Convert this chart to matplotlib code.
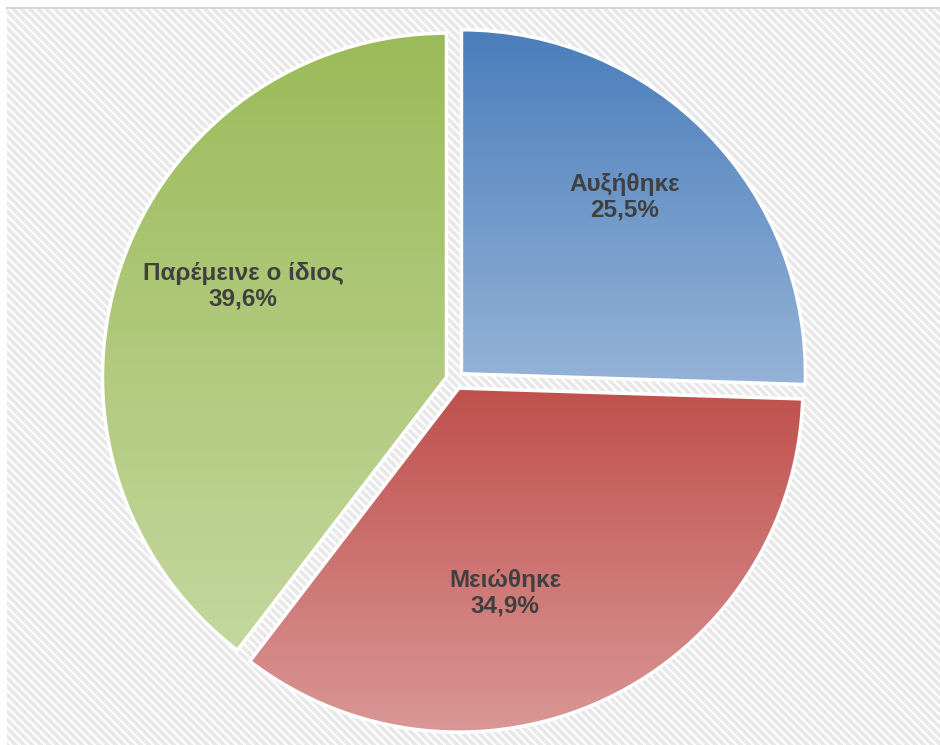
import numpy as np
import matplotlib
matplotlib.use("Agg")
import matplotlib.pyplot as plt
from matplotlib.colors import LinearSegmentedColormap
from matplotlib.patches import Rectangle

plt.rcParams['font.family'] = ['Liberation Sans', 'DejaVu Sans']
plt.rcParams['hatch.linewidth'] = 1.6

categories = ["Αυξήθηκε", "Μειώθηκε", "Παρέμεινε ο ίδιος"]
shares = [25.5, 34.9, 39.6]
pct_labels = ["25,5%", "34,9%", "39,6%"]

# top / bottom colour of each slice gradient
top_cols = ["#4a7ebb", "#c0504d", "#9bbb59"]
bot_cols = ["#95b3d7", "#d99795", "#c4d79e"]

W, H = 940, 745
fig = plt.figure(figsize=(W / 100, H / 100), dpi=100)
ax = fig.add_axes([0, 0, 1, 1])

# patterned panel behind the pie
panel = Rectangle((7, 0), W - 7, H - 8, facecolor="#e8e8e8",
                  edgecolor="white", hatch="\\\\\\\\", linewidth=0, zorder=0)
ax.add_patch(panel)
ax.plot([7, W], [H - 8, H - 8], color="#d6d6d6", lw=1.5, zorder=1)

cx, cy, R = 455, H - 380, 344
# explode is in data units (px here)
wedges, texts = ax.pie(shares, startangle=90, counterclock=False,
                       center=(cx, cy), radius=R, explode=[9] * 3,
                       wedgeprops=dict(edgecolor="white", linewidth=2.5),
                       frame=True)
ax.set_xlim(0, W)
ax.set_ylim(0, H)
ax.set_aspect('equal')
ax.axis('off')

grad = np.linspace(0, 1, 256).reshape(-1, 1)
for w, c0, c1 in zip(wedges, top_cols, bot_cols):
    w.set_facecolor("none")
    w.set_zorder(3)
    ext = w.get_path().get_extents(w.get_patch_transform())
    cmap = LinearSegmentedColormap.from_list("g", [c0, c1])
    im = ax.imshow(grad, cmap=cmap, aspect='auto', origin='upper',
                   extent=(ext.x0, ext.x1, ext.y0, ext.y1), zorder=2)
    im.set_clip_path(w)

# label anchors (image px)
label_xy = [(625, 197), (505, 593), (243, 286)]
for (x, y), name, pct in zip(label_xy, categories, pct_labels):
    ax.text(x, H - y, name + "\n" + pct, ha='center', va='center',
            fontsize=17.5, fontweight='bold', color="#404040",
            linespacing=1.15, zorder=5)

ax.set_xlim(0, W)
ax.set_ylim(0, H)
fig.savefig("out.png", dpi=100)
